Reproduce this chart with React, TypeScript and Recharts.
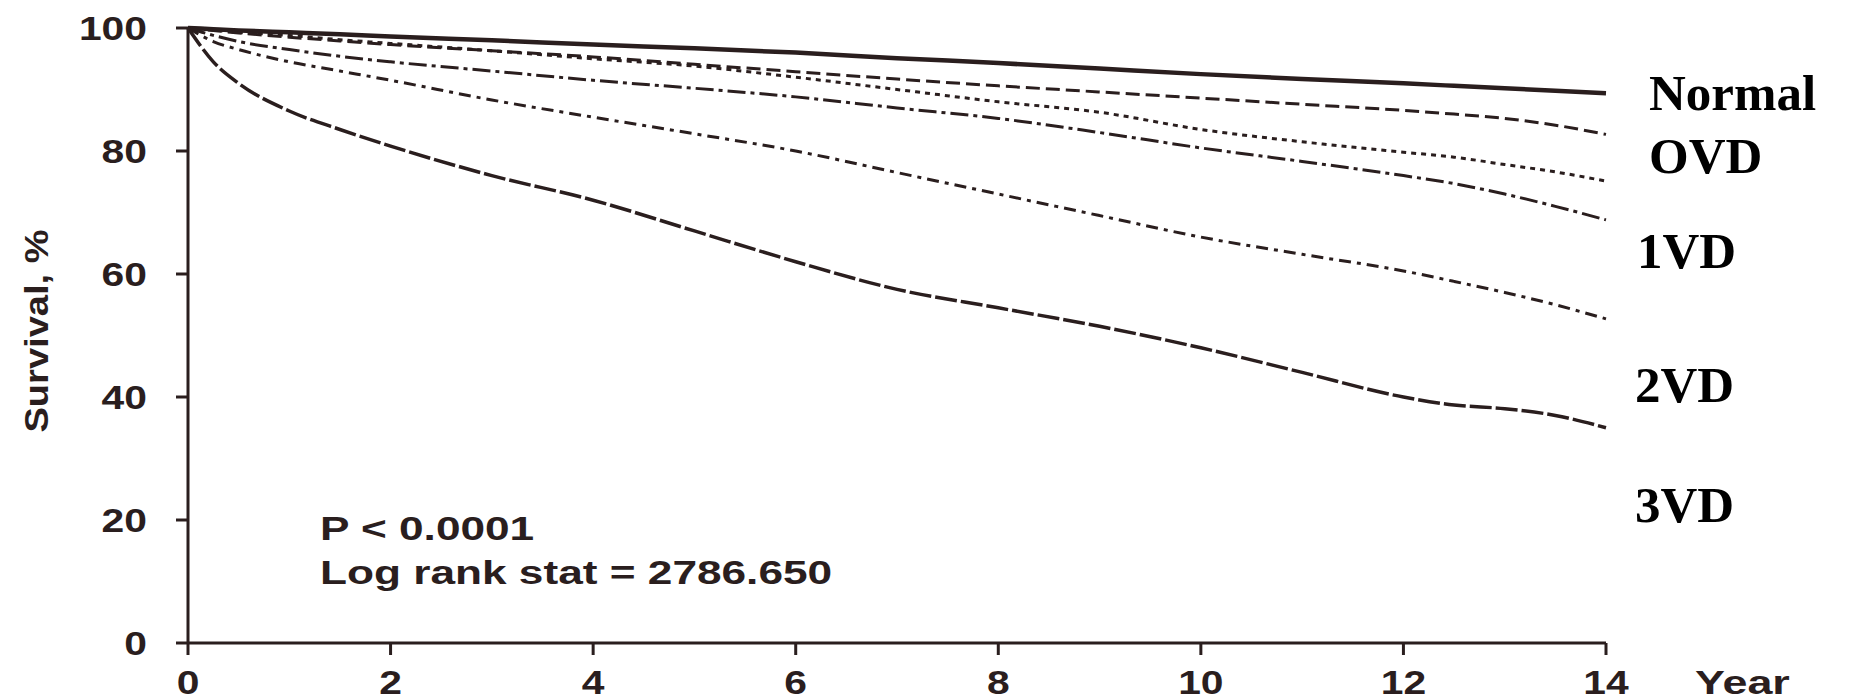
import React from 'react';
import { LineChart, Line, XAxis, YAxis } from 'recharts';

// Follow-up time (years) at which each survival curve is sampled
const years = [0, 0.25, 0.5, 1, 1.5, 2, 3, 4, 5, 6, 7, 8, 9, 10, 11, 12, 12.5, 13, 13.5, 14];

// Cumulative survival (%) per group, top curve to bottom curve
const survivalNormal = [100, 99.8, 99.6, 99.3, 99.0, 98.6, 98.0, 97.3, 96.7, 96.0, 95.1, 94.3, 93.4, 92.5, 91.7, 91.0, 90.6, 90.2, 89.8, 89.4];
const survivalOVD = [100, 99.6, 99.2, 98.5, 97.9, 97.3, 96.3, 95.3, 94.1, 92.9, 91.7, 90.6, 89.6, 88.6, 87.6, 86.6, 86.0, 85.3, 84.2, 82.7];
const survivalG3 = [100, 99.7, 99.3, 98.8, 98.1, 97.5, 96.3, 95.0, 93.8, 92.0, 90.0, 88.0, 86.3, 83.5, 81.5, 79.8, 79.0, 77.8, 76.6, 75.1];
const survivalG4 = [100, 98.8, 97.8, 96.5, 95.4, 94.5, 93.0, 91.5, 90.2, 88.8, 87.0, 85.3, 83.0, 80.5, 78.3, 76.0, 74.7, 73.0, 71.0, 68.8];
const survivalG5 = [100, 97.8, 96.5, 94.5, 93.0, 91.5, 88.3, 85.5, 82.8, 80.0, 76.5, 73.0, 69.5, 66.0, 63.2, 60.5, 58.8, 57.0, 55.0, 52.7];
const survivalG6 = [100, 94.5, 91.0, 86.5, 83.5, 80.8, 76.0, 72.0, 67.0, 62.0, 57.5, 54.5, 51.5, 48.0, 44.0, 40.0, 38.7, 38.1, 37.0, 35.0];

// Axis ticks
const xTicks = [0, 2, 4, 6, 8, 10, 12, 14];
const yTicks = [0, 20, 40, 60, 80, 100];

// Group names printed at the right of the curves
const groupLabels = ['Normal', 'OVD', '1VD', '2VD', '3VD'];

// Annotation text
const pValueText = 'P < 0.0001';
const logRankText = 'Log rank stat = 2786.650';

const data = years.map((t, i) => ({
  t,
  s1: survivalNormal[i],
  s2: survivalOVD[i],
  s3: survivalG3[i],
  s4: survivalG4[i],
  s5: survivalG5[i],
  s6: survivalG6[i],
}));

const INK = '#2a1e1e';
const SANS = '"Liberation Sans", Arial, Helvetica, sans-serif';
const SERIF = '"Liberation Serif", "Times New Roman", serif';

const XTick = (props: any) => {
  const { x, y, payload } = props;
  return (
    <text
      transform={`translate(${x},${y + 37}) scale(1.2,1)`}
      textAnchor="middle"
      fontFamily={SANS}
      fontWeight="bold"
      fontSize={34}
      fill={INK}
    >
      {payload.value}
    </text>
  );
};

const YTick = (props: any) => {
  const { x, y, payload } = props;
  return (
    <text
      transform={`translate(${x - 27},${y + 12}) scale(1.2,1)`}
      textAnchor="end"
      fontFamily={SANS}
      fontWeight="bold"
      fontSize={34}
      fill={INK}
    >
      {payload.value}
    </text>
  );
};

const labelStyle = { fontFamily: SERIF, fontWeight: 'bold' as const, fontSize: 51, fill: '#000' };

export default function App() {
  return (
    <div style={{ position: 'absolute', left: 0, top: 0, width: 1869, height: 700, background: '#fff' }}>
      <LineChart
        width={1869}
        height={700}
        data={data}
        margin={{ top: 28, right: 263, bottom: 0, left: 0 }}
      >
        <XAxis
          dataKey="t"
          type="number"
          domain={[0, 14]}
          ticks={xTicks}
          interval={0}
          height={57}
          tickSize={12}
          tick={<XTick />}
          axisLine={{ stroke: INK, strokeWidth: 3 }}
          tickLine={{ stroke: INK, strokeWidth: 3 }}
        />
        <YAxis
          type="number"
          domain={[0, 100]}
          ticks={yTicks}
          interval={0}
          width={188}
          tickSize={12}
          tick={<YTick />}
          axisLine={{ stroke: INK, strokeWidth: 3 }}
          tickLine={{ stroke: INK, strokeWidth: 3 }}
        />
        <Line type="monotone" dataKey="s1" stroke={INK} strokeWidth={4.5} dot={false} isAnimationActive={false} />
        <Line type="monotone" dataKey="s2" stroke={INK} strokeWidth={3} strokeDasharray="14 6" dot={false} isAnimationActive={false} />
        <Line type="monotone" dataKey="s3" stroke={INK} strokeWidth={3} strokeDasharray="5 5" dot={false} isAnimationActive={false} />
        <Line type="monotone" dataKey="s4" stroke={INK} strokeWidth={3} strokeDasharray="18 5 4 5" dot={false} isAnimationActive={false} />
        <Line type="monotone" dataKey="s5" stroke={INK} strokeWidth={3} strokeDasharray="12 6 4 6" dot={false} isAnimationActive={false} />
        <Line type="monotone" dataKey="s6" stroke={INK} strokeWidth={3.5} strokeDasharray="22 4" dot={false} isAnimationActive={false} />
      </LineChart>
      <svg
        width={1869}
        height={700}
        style={{ position: 'absolute', left: 0, top: 0, pointerEvents: 'none' }}
      >
        <text
          transform="translate(48,331) rotate(-90) scale(1.12,1)"
          textAnchor="middle"
          fontFamily={SANS}
          fontWeight="bold"
          fontSize={34}
          fill={INK}
        >
          Survival, %
        </text>
        <text transform="translate(1695,694) scale(1.32,1)" fontFamily={SANS} fontWeight="bold" fontSize={34} fill={INK}>
          Year
        </text>
        <text transform="translate(320,540) scale(1.3,1)" fontFamily={SANS} fontWeight="bold" fontSize={34} fill={INK}>
          {pValueText}
        </text>
        <text transform="translate(320,584) scale(1.3,1)" fontFamily={SANS} fontWeight="bold" fontSize={34} fill={INK}>
          {logRankText}
        </text>
        <text x={1649} y={110} {...labelStyle}>{groupLabels[0]}</text>
        <text x={1649} y={173} {...labelStyle}>{groupLabels[1]}</text>
        <text x={1637} y={268} {...labelStyle}>{groupLabels[2]}</text>
        <text x={1635} y={402} {...labelStyle}>{groupLabels[3]}</text>
        <text x={1635} y={522} {...labelStyle}>{groupLabels[4]}</text>
      </svg>
    </div>
  );
}
